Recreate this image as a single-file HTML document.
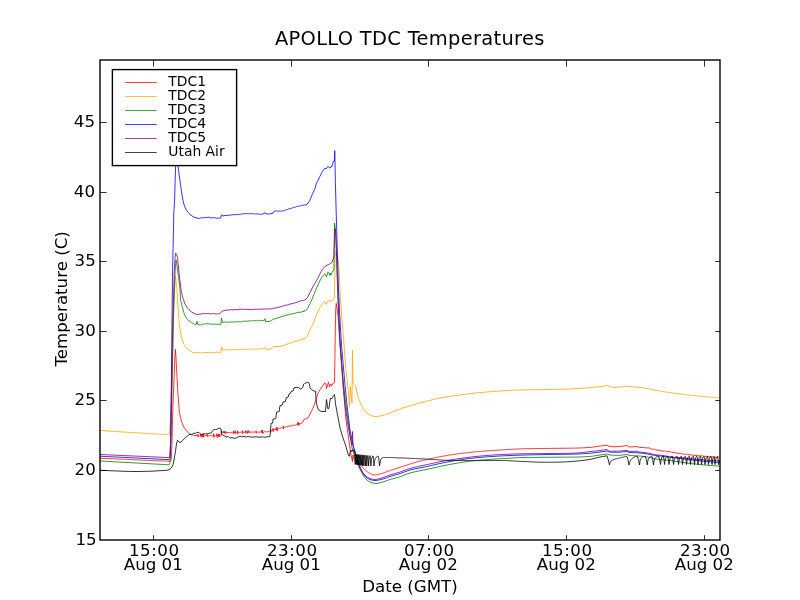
<!DOCTYPE html>
<html>
<head>
<meta charset="utf-8">
<title>APOLLO TDC Temperatures</title>
<style>
html,body{margin:0;padding:0;background:#fff;}
svg{display:block;}
text{font-family:"DejaVu Sans","Bitstream Vera Sans","Liberation Sans",sans-serif;fill:#000;}
</style>
</head>
<body>
<svg width="800" height="600" viewBox="0 0 800 600">
<rect width="800" height="600" fill="#fff"/>
<defs><clipPath id="ax"><rect x="100" y="60" width="620" height="480"/></clipPath></defs>
<g clip-path="url(#ax)" fill="none" stroke-width="0.80" stroke-linejoin="round" stroke-linecap="butt">
<path d="M100.00 458.20 L101.01 458.25 L102.01 458.29 L103.02 458.34 L104.03 458.38 L105.04 458.43 L106.04 458.47 L107.05 458.52 L108.06 458.56 L109.06 458.61 L110.07 458.65 L111.08 458.70 L112.09 458.74 L113.09 458.79 L114.10 458.83 L115.11 458.88 L116.11 458.93 L117.12 458.97 L118.13 459.02 L119.14 459.06 L120.14 459.11 L121.15 459.15 L122.16 459.20 L123.16 459.24 L124.17 459.29 L125.18 459.33 L126.19 459.38 L127.19 459.42 L128.20 459.47 L129.21 459.51 L130.21 459.56 L131.22 459.60 L132.23 459.65 L133.24 459.70 L134.24 459.74 L135.25 459.79 L136.26 459.83 L137.26 459.88 L138.27 459.92 L139.28 459.97 L140.29 460.01 L141.29 460.06 L142.30 460.11 L143.31 460.15 L144.31 460.20 L145.32 460.25 L146.33 460.30 L147.34 460.35 L148.34 460.40 L149.35 460.45 L150.36 460.49 L151.36 460.54 L152.37 460.59 L153.38 460.63 L154.39 460.68 L155.39 460.72 L156.40 460.76 L157.41 460.80 L158.41 460.84 L159.42 460.88 L160.43 460.91 L161.44 460.95 L162.44 460.98 L163.45 461.01 L164.46 461.04 L165.46 461.07 L166.47 461.10 L167.48 461.13 L168.49 461.15 L169.49 461.18 L170.50 461.20 L171.30 459.00 L171.90 445.00 L172.90 407.00 L174.20 375.00 L174.80 358.00 L175.40 349.40 L176.00 358.00 L176.60 370.00 L178.00 395.00 L179.40 412.50 L179.40 412.50 L180.38 417.03 L181.35 420.82 L182.33 423.62 L183.31 425.82 L184.28 427.63 L185.26 429.12 L186.24 430.45 L187.21 431.60 L188.19 432.55 L189.16 433.30 L190.14 433.94 L191.12 434.48 L192.09 434.88 L193.07 435.15 L194.05 435.37 L195.02 435.54 L196.00 435.60 L196.00 435.42 L196.79 435.53 L197.59 435.72 L197.74 434.36 L198.04 436.80 L198.38 435.48 L199.17 436.00 L199.97 435.90 L200.76 435.77 L200.91 433.88 L201.21 437.35 L201.55 435.70 L202.35 435.81 L202.50 433.79 L202.80 437.20 L203.14 435.56 L203.29 433.71 L203.59 437.16 L203.94 435.85 L204.73 435.85 L205.52 435.63 L206.32 435.66 L207.11 435.95 L207.26 434.31 L207.56 436.52 L207.90 436.01 L208.70 435.76 L209.49 435.66 L210.28 435.54 L211.08 435.69 L211.87 435.75 L212.66 435.86 L213.46 435.73 L213.61 433.62 L213.91 437.55 L214.25 435.88 L215.05 435.75 L215.84 435.83 L216.63 435.45 L216.78 433.62 L217.08 437.57 L217.43 435.31 L218.22 435.54 L218.37 434.09 L218.67 436.93 L219.01 435.86 L219.16 433.82 L219.46 436.53 L219.81 435.75 L220.60 435.87 L221.30 435.00 L221.60 430.50 L222.20 432.80 L223.00 432.60 L223.80 432.47 L223.95 430.91 L224.25 433.45 L224.60 432.39 L225.41 432.63 L225.56 431.33 L225.86 433.72 L226.21 432.44 L227.01 432.78 L227.81 432.50 L228.61 432.60 L229.42 432.53 L230.22 432.75 L231.02 432.43 L231.82 432.30 L232.62 432.73 L233.43 432.46 L233.58 430.90 L233.88 433.64 L234.23 432.13 L235.03 432.48 L235.18 430.70 L235.48 433.65 L235.83 432.49 L236.64 432.49 L237.44 432.06 L237.59 430.61 L237.89 434.06 L238.24 432.19 L239.04 432.37 L239.84 432.22 L240.65 432.20 L241.45 432.14 L242.25 432.41 L242.40 430.59 L242.70 433.68 L243.05 432.11 L243.85 432.39 L244.66 432.00 L245.46 432.29 L245.61 430.72 L245.91 433.15 L246.26 432.36 L247.06 432.36 L247.21 430.67 L247.51 433.36 L247.86 432.36 L248.67 431.95 L248.82 430.49 L249.12 433.08 L249.47 432.29 L250.27 431.91 L251.07 432.27 L251.88 432.27 L252.68 431.85 L253.48 432.25 L254.28 431.97 L255.08 432.01 L255.89 432.31 L256.04 430.85 L256.34 433.22 L256.69 432.28 L257.49 432.01 L258.29 432.30 L259.09 432.18 L259.90 432.12 L260.70 431.89 L261.50 431.84 L261.65 430.34 L261.95 433.08 L262.30 432.18 L262.45 430.07 L262.75 433.62 L263.10 432.24 L263.91 432.21 L264.71 431.66 L265.51 431.73 L266.31 431.99 L267.11 431.80 L267.92 431.87 L268.72 431.47 L269.52 431.21 L270.32 430.69 L270.47 429.16 L270.77 432.26 L271.12 430.27 L271.93 430.51 L272.73 430.27 L272.88 428.37 L273.18 431.66 L273.53 429.64 L274.33 429.58 L275.14 429.48 L275.94 429.49 L276.09 428.08 L276.39 430.02 L276.74 428.89 L276.89 427.14 L277.19 430.95 L277.54 428.66 L278.34 428.60 L279.15 428.42 L279.95 428.36 L280.75 427.93 L281.55 427.70 L282.35 427.87 L283.16 427.30 L283.31 426.05 L283.61 428.75 L283.96 427.53 L284.76 427.35 L285.56 426.95 L286.36 426.80 L287.17 426.57 L287.97 426.42 L288.77 426.29 L289.57 425.83 L290.38 425.88 L291.18 426.01 L291.98 425.82 L292.78 425.27 L293.58 425.02 L294.39 425.18 L295.19 425.10 L295.99 424.91 L296.79 424.37 L297.59 424.16 L297.74 422.63 L298.04 425.40 L298.40 424.06 L298.55 422.40 L298.85 425.42 L299.20 423.86 L300.00 423.77 L301.00 423.60 L302.50 422.50 L304.00 419.50 L306.00 418.80 L308.00 418.00 L310.00 414.00 L313.00 408.00 L316.00 400.00 L318.00 393.00 L321.00 388.00 L324.50 383.00 L326.00 384.00 L326.50 388.50 L327.30 386.00 L328.50 382.00 L329.50 387.00 L330.20 384.50 L331.00 384.50 L331.60 386.00 L332.30 384.00 L334.00 383.00 L334.50 382.50 L334.90 360.00 L335.30 330.00 L335.80 308.00 L336.30 303.50 L336.90 308.00 L338.00 315.00 L339.00 330.00 L340.50 350.00 L343.00 385.00 L346.00 420.00 L349.00 441.00 L351.00 455.00 L352.50 461.50 L353.00 455.00 L353.60 459.00 L353.60 459.00 L354.60 459.90 L355.60 460.79 L356.60 461.66 L357.61 462.50 L358.61 463.31 L359.61 464.14 L360.61 465.11 L361.61 466.24 L362.61 467.44 L363.62 468.61 L364.62 469.65 L365.62 470.52 L366.62 471.33 L367.62 472.07 L368.62 472.74 L369.63 473.31 L370.63 473.81 L371.63 474.32 L372.63 474.74 L373.63 474.98 L374.63 474.98 L375.63 474.89 L376.64 474.73 L377.64 474.53 L378.64 474.31 L379.64 474.08 L380.64 473.85 L381.64 473.57 L382.65 473.25 L383.65 472.90 L384.65 472.53 L385.65 472.14 L386.65 471.75 L387.65 471.35 L388.66 470.98 L389.66 470.62 L390.66 470.28 L391.66 469.95 L392.66 469.63 L393.66 469.31 L394.66 468.99 L395.67 468.68 L396.67 468.36 L397.67 468.05 L398.67 467.73 L399.67 467.41 L400.67 467.08 L401.68 466.75 L402.68 466.41 L403.68 466.07 L404.68 465.72 L405.68 465.38 L406.68 465.05 L407.69 464.72 L408.69 464.40 L409.69 464.09 L410.69 463.80 L411.69 463.50 L412.69 463.21 L413.69 462.93 L414.70 462.64 L415.70 462.37 L416.70 462.09 L417.70 461.82 L418.70 461.56 L419.70 461.30 L420.71 461.04 L421.71 460.79 L422.71 460.54 L423.71 460.30 L424.71 460.07 L425.71 459.84 L426.72 459.61 L427.72 459.38 L428.72 459.15 L429.72 458.92 L430.72 458.70 L431.72 458.48 L432.72 458.26 L433.73 458.05 L434.73 457.83 L435.73 457.62 L436.73 457.41 L437.73 457.21 L438.73 457.01 L439.74 456.81 L440.74 456.61 L441.74 456.42 L442.74 456.23 L443.74 456.05 L444.74 455.87 L445.75 455.69 L446.75 455.52 L447.75 455.36 L448.75 455.20 L449.75 455.04 L450.75 454.89 L451.75 454.73 L452.76 454.59 L453.76 454.44 L454.76 454.30 L455.76 454.16 L456.76 454.02 L457.76 453.88 L458.77 453.75 L459.77 453.61 L460.77 453.48 L461.77 453.36 L462.77 453.23 L463.77 453.11 L464.78 452.99 L465.78 452.87 L466.78 452.76 L467.78 452.64 L468.78 452.53 L469.78 452.42 L470.78 452.32 L471.79 452.22 L472.79 452.11 L473.79 452.02 L474.79 451.92 L475.79 451.83 L476.79 451.73 L477.80 451.64 L478.80 451.55 L479.80 451.47 L480.80 451.38 L481.80 451.30 L482.80 451.21 L483.81 451.13 L484.81 451.05 L485.81 450.97 L486.81 450.90 L487.81 450.82 L488.81 450.75 L489.82 450.67 L490.82 450.60 L491.82 450.53 L492.82 450.46 L493.82 450.39 L494.82 450.33 L495.82 450.26 L496.83 450.20 L497.83 450.13 L498.83 450.07 L499.83 450.01 L500.83 449.95 L501.83 449.89 L502.84 449.83 L503.84 449.77 L504.84 449.70 L505.84 449.64 L506.84 449.58 L507.84 449.52 L508.85 449.46 L509.85 449.40 L510.85 449.35 L511.85 449.29 L512.85 449.24 L513.85 449.18 L514.85 449.13 L515.86 449.08 L516.86 449.03 L517.86 448.99 L518.86 448.95 L519.86 448.91 L520.86 448.87 L521.87 448.84 L522.87 448.80 L523.87 448.78 L524.87 448.75 L525.87 448.73 L526.87 448.71 L527.88 448.69 L528.88 448.67 L529.88 448.66 L530.88 448.64 L531.88 448.62 L532.88 448.61 L533.88 448.59 L534.89 448.58 L535.89 448.57 L536.89 448.55 L537.89 448.54 L538.89 448.53 L539.89 448.52 L540.90 448.51 L541.90 448.50 L542.90 448.48 L543.90 448.47 L544.90 448.46 L545.90 448.45 L546.91 448.44 L547.91 448.43 L548.91 448.41 L549.91 448.40 L550.91 448.39 L551.91 448.38 L552.91 448.37 L553.92 448.35 L554.92 448.34 L555.92 448.33 L556.92 448.32 L557.92 448.32 L558.92 448.31 L559.93 448.30 L560.93 448.29 L561.93 448.28 L562.93 448.27 L563.93 448.26 L564.93 448.25 L565.94 448.24 L566.94 448.23 L567.94 448.21 L568.94 448.20 L569.94 448.19 L570.94 448.17 L571.94 448.16 L572.95 448.14 L573.95 448.12 L574.95 448.10 L575.95 448.08 L576.95 448.05 L577.95 448.02 L578.96 447.99 L579.96 447.96 L580.96 447.92 L581.96 447.87 L582.96 447.83 L583.96 447.78 L584.97 447.72 L585.97 447.66 L586.97 447.60 L587.97 447.54 L588.97 447.47 L589.97 447.40 L590.97 447.32 L591.98 447.21 L592.98 447.07 L593.98 446.93 L594.98 446.77 L595.98 446.61 L596.98 446.45 L597.99 446.29 L598.99 446.14 L599.99 446.00 L600.99 445.87 L601.99 445.75 L602.99 445.63 L604.00 445.51 L605.00 445.40 L606.00 445.30 L607.00 445.20 L607.00 445.20 L609.00 446.30 L612.00 446.60 L615.00 446.80 L620.00 446.50 L624.00 446.00 L627.00 445.50 L628.00 446.20 L629.00 447.00 L633.00 446.80 L637.00 446.50 L638.50 447.00 L640.00 447.50 L643.00 447.50 L645.00 447.80 L645.00 447.80 L648.83 447.95 L649.26 447.67 L650.32 449.07 L654.15 449.19 L654.58 448.97 L655.64 450.08 L659.47 450.18 L659.90 449.99 L660.96 450.95 L664.80 451.04 L665.22 450.87 L666.29 451.68 L670.12 451.77 L670.54 451.60 L671.61 452.45 L675.44 452.56 L675.86 452.36 L676.93 453.34 L680.76 453.43 L681.19 453.26 L682.25 454.10 L686.08 454.17 L686.51 454.03 L687.57 454.73 L691.40 454.80 L691.83 454.67 L692.89 455.31 L696.72 455.37 L697.15 455.26 L698.21 455.84 L702.05 455.89 L702.47 455.79 L703.54 456.30 L707.37 456.35 L707.79 456.26 L708.86 456.71 L712.69 456.76 L713.11 456.67 L714.18 457.11 L718.01 457.16 L718.44 457.08 L719.50 457.50" stroke="#ff0000"/>
<path d="M100.00 430.40 L101.00 430.47 L101.99 430.55 L102.99 430.62 L103.99 430.70 L104.99 430.77 L105.98 430.84 L106.98 430.91 L107.98 430.98 L108.97 431.05 L109.97 431.12 L110.97 431.19 L111.97 431.26 L112.96 431.33 L113.96 431.40 L114.96 431.47 L115.95 431.53 L116.95 431.60 L117.95 431.67 L118.94 431.73 L119.94 431.80 L120.94 431.86 L121.94 431.92 L122.93 431.99 L123.93 432.05 L124.93 432.11 L125.92 432.17 L126.92 432.23 L127.92 432.29 L128.92 432.35 L129.91 432.41 L130.91 432.47 L131.91 432.52 L132.90 432.58 L133.90 432.64 L134.90 432.70 L135.90 432.76 L136.89 432.82 L137.89 432.87 L138.89 432.93 L139.88 432.99 L140.88 433.05 L141.88 433.12 L142.88 433.18 L143.87 433.24 L144.87 433.31 L145.87 433.37 L146.86 433.44 L147.86 433.51 L148.86 433.57 L149.86 433.64 L150.85 433.70 L151.85 433.76 L152.85 433.82 L153.84 433.88 L154.84 433.94 L155.84 434.00 L156.83 434.05 L157.83 434.10 L158.83 434.15 L159.83 434.19 L160.82 434.23 L161.82 434.27 L162.82 434.31 L163.81 434.35 L164.81 434.38 L165.81 434.41 L166.81 434.44 L167.80 434.47 L168.80 434.50 L169.50 433.50 L170.50 418.00 L171.80 380.00 L173.80 310.00 L175.40 275.60 L176.90 288.75 L178.00 307.50 L179.00 320.00 L179.40 325.00 L179.40 325.00 L180.38 331.75 L181.36 336.69 L182.34 340.10 L183.32 342.81 L184.30 344.84 L185.29 346.37 L186.27 347.66 L187.25 348.73 L188.23 349.61 L189.21 350.32 L190.19 350.99 L191.17 351.60 L192.15 352.09 L193.13 352.41 L194.11 352.53 L195.10 352.59 L196.08 352.65 L197.06 352.69 L198.04 352.72 L199.02 352.74 L200.00 352.75 L200.00 352.87 L200.99 352.93 L201.98 352.96 L202.97 352.65 L203.96 352.75 L204.95 352.18 L205.94 352.66 L206.93 352.45 L207.92 352.57 L208.91 352.13 L209.90 352.57 L210.90 352.71 L211.89 352.10 L212.88 352.30 L213.87 352.48 L214.86 352.68 L215.85 352.28 L216.84 352.25 L217.83 352.31 L218.82 352.58 L219.81 352.68 L220.80 352.33 L221.50 346.90 L222.50 350.00 L223.00 349.92 L223.99 349.91 L224.97 349.85 L225.96 349.86 L226.95 349.63 L227.94 349.85 L228.93 350.11 L229.91 349.75 L230.90 349.93 L231.89 349.56 L232.88 349.86 L233.86 349.88 L234.85 349.81 L235.84 349.70 L236.82 349.66 L237.81 349.74 L238.80 349.87 L239.79 349.40 L240.78 349.34 L241.76 349.69 L242.75 349.76 L243.74 349.48 L244.72 349.39 L245.71 349.51 L246.70 349.15 L247.69 349.16 L248.68 349.07 L249.66 349.26 L250.65 349.06 L251.64 348.98 L252.62 349.22 L253.61 349.34 L254.60 348.91 L255.59 349.12 L256.57 348.90 L257.56 349.13 L258.55 348.94 L259.54 348.71 L260.52 348.65 L261.51 348.50 L262.50 348.74 L263.40 348.70 L264.40 347.25 L265.60 349.40 L268.00 349.20 L270.00 349.00 L271.50 348.30 L273.00 346.90 L274.00 346.73 L275.00 346.58 L276.00 346.63 L277.00 346.51 L278.00 346.67 L279.00 346.17 L280.00 346.54 L281.00 346.07 L282.00 345.90 L283.00 345.54 L284.00 345.43 L285.00 345.07 L286.00 344.54 L287.00 344.12 L288.00 343.90 L289.00 343.63 L290.00 343.04 L291.00 342.93 L292.00 342.73 L293.00 342.10 L294.00 341.62 L295.00 341.29 L296.00 341.27 L297.00 340.95 L298.00 340.88 L299.00 340.61 L300.00 340.10 L301.00 339.95 L302.00 339.91 L303.00 339.81 L303.75 338.10 L305.00 338.75 L307.50 335.60 L310.00 330.00 L313.75 322.50 L316.25 315.00 L320.00 307.50 L322.50 303.75 L325.00 301.50 L326.25 304.40 L327.50 301.25 L328.75 300.25 L330.00 301.90 L331.00 301.50 L332.50 300.25 L334.40 298.00 L334.60 290.00 L334.90 262.00 L335.40 251.50 L336.60 253.00 L338.60 262.00 L340.50 300.00 L344.00 345.00 L346.00 370.00 L348.50 393.00 L349.50 406.50 L350.30 386.00 L351.20 395.00 L352.00 403.00 L352.50 350.50 L353.00 382.00 L354.00 384.50 L354.00 384.50 L355.00 385.62 L356.00 388.00 L357.00 392.68 L358.00 396.69 L359.00 399.59 L360.00 402.00 L361.00 404.20 L362.00 406.25 L363.00 408.11 L364.00 409.71 L365.00 411.00 L366.00 412.06 L367.00 413.00 L368.00 413.81 L369.00 414.48 L370.00 415.00 L371.00 415.44 L372.00 415.84 L373.00 416.18 L374.00 416.41 L375.00 416.50 L376.00 416.47 L377.00 416.39 L378.00 416.28 L379.00 416.14 L380.00 416.00 L381.00 415.83 L382.00 415.62 L383.00 415.36 L384.00 415.07 L385.00 414.75 L386.00 414.41 L387.00 414.06 L388.00 413.71 L389.00 413.35 L390.00 413.00 L391.00 412.64 L392.00 412.26 L393.00 411.85 L394.00 411.43 L395.00 411.01 L396.00 410.58 L397.00 410.16 L398.00 409.75 L399.00 409.36 L400.00 409.00 L401.00 408.66 L402.00 408.32 L403.00 407.98 L404.00 407.66 L405.00 407.34 L406.00 407.02 L407.00 406.71 L408.00 406.41 L409.00 406.11 L410.00 405.81 L411.00 405.52 L412.00 405.23 L413.00 404.94 L414.00 404.66 L415.00 404.38 L416.00 404.10 L417.00 403.82 L418.00 403.55 L419.00 403.27 L420.00 403.00 L421.00 402.73 L422.00 402.45 L423.00 402.18 L424.00 401.90 L425.00 401.63 L426.00 401.35 L427.00 401.08 L428.00 400.81 L429.00 400.55 L430.00 400.29 L431.00 400.03 L432.00 399.78 L433.00 399.53 L434.00 399.29 L435.00 399.05 L436.00 398.83 L437.00 398.61 L438.00 398.39 L439.00 398.19 L440.00 398.00 L441.00 397.82 L442.00 397.64 L443.00 397.46 L444.00 397.29 L445.00 397.13 L446.00 396.97 L447.00 396.81 L448.00 396.66 L449.00 396.51 L450.00 396.36 L451.00 396.22 L452.00 396.08 L453.00 395.94 L454.00 395.80 L455.00 395.67 L456.00 395.53 L457.00 395.40 L458.00 395.27 L459.00 395.13 L460.00 395.00 L461.00 394.87 L462.00 394.73 L463.00 394.60 L464.00 394.47 L465.00 394.34 L466.00 394.21 L467.00 394.08 L468.00 393.96 L469.00 393.83 L470.00 393.71 L471.00 393.58 L472.00 393.47 L473.00 393.35 L474.00 393.23 L475.00 393.12 L476.00 393.01 L477.00 392.90 L478.00 392.80 L479.00 392.70 L480.00 392.60 L481.00 392.50 L482.00 392.41 L483.00 392.32 L484.00 392.23 L485.00 392.14 L486.00 392.05 L487.00 391.96 L488.00 391.88 L489.00 391.80 L490.00 391.71 L491.00 391.63 L492.00 391.56 L493.00 391.48 L494.00 391.41 L495.00 391.33 L496.00 391.26 L497.00 391.19 L498.00 391.13 L499.00 391.06 L500.00 391.00 L501.00 390.94 L502.00 390.88 L503.00 390.82 L504.00 390.76 L505.00 390.70 L506.00 390.64 L507.00 390.58 L508.00 390.53 L509.00 390.47 L510.00 390.42 L511.00 390.37 L512.00 390.32 L513.00 390.27 L514.00 390.22 L515.00 390.18 L516.00 390.14 L517.00 390.10 L518.00 390.06 L519.00 390.03 L520.00 390.00 L521.00 389.97 L522.00 389.95 L523.00 389.92 L524.00 389.90 L525.00 389.87 L526.00 389.85 L527.00 389.83 L528.00 389.81 L529.00 389.79 L530.00 389.77 L531.00 389.75 L532.00 389.74 L533.00 389.72 L534.00 389.70 L535.00 389.68 L536.00 389.67 L537.00 389.65 L538.00 389.63 L539.00 389.62 L540.00 389.60 L541.00 389.58 L542.00 389.57 L543.00 389.55 L544.00 389.54 L545.00 389.53 L546.00 389.51 L547.00 389.50 L548.00 389.49 L549.00 389.48 L550.00 389.46 L551.00 389.45 L552.00 389.44 L553.00 389.42 L554.00 389.41 L555.00 389.39 L556.00 389.38 L557.00 389.36 L558.00 389.34 L559.00 389.32 L560.00 389.30 L561.00 389.28 L562.00 389.25 L563.00 389.22 L564.00 389.19 L565.00 389.15 L566.00 389.12 L567.00 389.08 L568.00 389.03 L569.00 388.99 L570.00 388.94 L571.00 388.90 L572.00 388.85 L573.00 388.80 L574.00 388.74 L575.00 388.69 L576.00 388.63 L577.00 388.58 L578.00 388.52 L579.00 388.46 L580.00 388.40 L581.00 388.34 L582.00 388.27 L583.00 388.20 L584.00 388.13 L585.00 388.05 L586.00 387.98 L587.00 387.89 L588.00 387.81 L589.00 387.72 L590.00 387.63 L591.00 387.53 L592.00 387.44 L593.00 387.34 L594.00 387.24 L595.00 387.14 L596.00 387.03 L597.00 386.93 L598.00 386.82 L599.00 386.71 L600.00 386.60 L601.00 386.48 L602.00 386.36 L603.00 386.22 L604.00 386.09 L605.00 385.94 L606.00 385.80 L607.50 385.20 L610.00 387.00 L615.00 387.40 L620.00 387.00 L624.00 386.50 L627.00 386.10 L631.00 386.70 L635.00 387.00 L640.00 387.40 L645.00 388.00 L645.00 388.00 L646.01 388.22 L647.01 388.44 L648.02 388.66 L649.03 388.87 L650.03 389.09 L651.04 389.29 L652.05 389.50 L653.05 389.70 L654.06 389.90 L655.07 390.10 L656.07 390.29 L657.08 390.48 L658.09 390.66 L659.09 390.84 L660.10 391.02 L661.11 391.19 L662.11 391.36 L663.12 391.53 L664.13 391.69 L665.14 391.86 L666.14 392.02 L667.15 392.18 L668.16 392.33 L669.16 392.49 L670.17 392.64 L671.18 392.79 L672.18 392.94 L673.19 393.08 L674.20 393.22 L675.20 393.36 L676.21 393.50 L677.22 393.64 L678.22 393.77 L679.23 393.90 L680.24 394.03 L681.24 394.16 L682.25 394.28 L683.26 394.40 L684.26 394.52 L685.27 394.64 L686.28 394.75 L687.28 394.87 L688.29 394.98 L689.30 395.09 L690.30 395.20 L691.31 395.31 L692.32 395.41 L693.32 395.52 L694.33 395.62 L695.34 395.73 L696.34 395.83 L697.35 395.93 L698.36 396.03 L699.36 396.14 L700.37 396.24 L701.38 396.34 L702.39 396.44 L703.39 396.54 L704.40 396.63 L705.41 396.73 L706.41 396.83 L707.42 396.92 L708.43 397.02 L709.43 397.11 L710.44 397.20 L711.45 397.30 L712.45 397.39 L713.46 397.48 L714.47 397.57 L715.47 397.66 L716.48 397.74 L717.49 397.83 L718.49 397.92 L719.50 398.00" stroke="#ffa500"/>
<path d="M100.00 461.00 L101.00 461.06 L102.00 461.11 L103.00 461.17 L104.00 461.22 L105.00 461.28 L106.00 461.33 L107.00 461.38 L108.00 461.44 L109.00 461.50 L110.00 461.55 L111.00 461.61 L112.00 461.66 L113.00 461.72 L114.00 461.77 L115.00 461.83 L116.00 461.88 L117.00 461.94 L118.00 461.99 L119.00 462.05 L120.00 462.10 L121.00 462.16 L122.00 462.21 L123.00 462.27 L124.00 462.32 L125.00 462.38 L126.00 462.43 L127.00 462.49 L128.00 462.54 L129.00 462.60 L130.00 462.65 L131.00 462.71 L132.00 462.76 L133.00 462.81 L134.00 462.87 L135.00 462.92 L136.00 462.98 L137.00 463.04 L138.00 463.09 L139.00 463.15 L140.00 463.20 L141.00 463.25 L142.00 463.31 L143.00 463.36 L144.00 463.42 L145.00 463.47 L146.00 463.53 L147.00 463.58 L148.00 463.64 L149.00 463.69 L150.00 463.75 L151.00 463.80 L152.00 463.86 L153.00 463.91 L154.00 463.97 L155.00 464.02 L156.00 464.08 L157.00 464.13 L158.00 464.19 L159.00 464.24 L160.00 464.30 L161.00 464.36 L162.00 464.41 L163.00 464.47 L164.00 464.52 L165.00 464.58 L166.00 464.63 L167.00 464.69 L168.00 464.74 L169.00 464.80 L169.90 463.50 L170.60 450.00 L171.80 400.00 L173.60 310.00 L175.00 272.00 L176.00 260.00 L176.80 264.00 L178.50 277.00 L180.00 288.75 L180.60 300.00 L180.60 300.00 L181.60 303.93 L182.60 307.91 L183.60 312.05 L184.60 314.61 L185.60 316.67 L186.60 318.29 L187.60 319.50 L188.60 320.44 L189.60 321.20 L190.60 321.85 L191.60 322.45 L192.60 323.06 L193.60 323.66 L194.60 324.23 L195.60 324.75 L196.40 324.60 L197.00 321.25 L197.60 324.00 L199.40 325.00 L199.40 325.18 L200.38 325.07 L201.35 324.87 L202.33 324.08 L203.31 324.45 L204.29 323.83 L205.26 323.85 L206.24 324.11 L207.22 323.55 L208.20 323.59 L209.17 324.30 L210.15 323.87 L211.13 323.98 L212.10 324.24 L213.08 324.36 L214.06 323.79 L215.04 324.13 L216.01 324.26 L216.99 324.33 L217.97 324.11 L218.95 324.47 L219.92 324.81 L220.90 324.20 L221.50 318.00 L222.50 322.50 L223.00 322.44 L223.99 322.03 L224.99 322.10 L225.98 322.35 L226.98 321.85 L227.97 322.41 L228.96 322.38 L229.96 321.68 L230.95 322.31 L231.95 321.82 L232.94 322.10 L233.93 322.05 L234.93 321.64 L235.92 321.91 L236.91 321.86 L237.91 321.94 L238.90 321.47 L239.90 321.81 L240.89 321.92 L241.88 321.62 L242.88 321.44 L243.87 321.03 L244.87 321.25 L245.86 321.06 L246.85 321.28 L247.85 321.17 L248.84 321.02 L249.84 320.65 L250.83 320.98 L251.82 320.92 L252.82 320.51 L253.81 321.03 L254.80 320.80 L255.80 320.34 L256.79 320.94 L257.79 320.27 L258.78 320.39 L259.77 320.67 L260.77 320.54 L261.76 320.48 L262.76 320.54 L263.75 320.37 L264.40 320.30 L265.00 318.75 L265.60 321.90 L268.00 321.50 L270.00 321.25 L271.50 320.40 L273.00 319.40 L274.00 319.03 L275.00 318.54 L276.00 318.08 L277.00 318.31 L278.00 317.99 L279.00 317.46 L280.00 317.31 L281.00 316.65 L282.00 316.25 L283.00 316.06 L284.00 316.21 L285.00 315.19 L286.00 315.34 L287.00 314.85 L288.00 315.07 L289.00 314.45 L290.00 314.19 L291.00 314.02 L292.00 313.91 L293.00 313.90 L294.00 313.31 L295.00 313.54 L296.00 312.67 L297.00 312.61 L298.00 312.26 L299.00 312.09 L300.00 312.50 L301.00 312.28 L302.00 311.62 L303.00 311.47 L304.00 311.52 L304.60 310.50 L305.00 311.25 L307.50 308.75 L310.00 303.75 L313.75 295.00 L315.60 290.00 L318.75 283.00 L321.90 276.90 L323.50 275.00 L325.00 273.75 L326.50 276.90 L327.30 274.00 L328.10 271.90 L329.00 273.00 L330.00 275.60 L330.60 273.00 L331.20 274.80 L331.90 272.50 L333.00 271.00 L333.90 270.00 L334.20 245.00 L334.50 223.00 L335.00 226.00 L335.60 232.00 L336.50 250.00 L338.00 300.00 L340.00 340.00 L343.00 380.00 L346.00 405.00 L348.00 420.00 L350.00 435.00 L352.00 448.00 L355.00 457.00 L358.00 465.00 L358.00 465.00 L359.00 467.08 L360.00 469.08 L361.00 471.00 L362.00 472.94 L363.00 474.88 L364.00 476.63 L365.00 478.00 L366.00 479.07 L367.00 480.02 L368.00 480.85 L369.00 481.51 L370.00 482.00 L371.00 482.38 L372.00 482.73 L373.00 483.04 L374.00 483.28 L375.00 483.44 L376.00 483.50 L377.00 483.43 L378.00 483.26 L379.00 483.03 L380.00 482.80 L381.00 482.56 L382.00 482.27 L383.00 481.96 L384.00 481.61 L385.00 481.25 L386.00 480.89 L387.00 480.52 L388.00 480.16 L389.00 479.82 L390.00 479.50 L391.00 479.20 L392.00 478.92 L393.00 478.65 L394.00 478.38 L395.00 478.12 L396.00 477.85 L397.00 477.58 L398.00 477.30 L399.00 477.01 L400.00 476.70 L401.00 476.36 L402.00 476.00 L403.00 475.61 L404.00 475.20 L405.00 474.80 L406.00 474.39 L407.00 474.00 L408.00 473.64 L409.00 473.30 L410.00 473.00 L411.00 472.73 L412.00 472.48 L413.00 472.24 L414.00 472.01 L415.00 471.80 L416.00 471.59 L417.00 471.38 L418.00 471.19 L419.00 470.99 L420.00 470.80 L421.00 470.61 L422.00 470.41 L423.00 470.21 L424.00 470.01 L425.00 469.80 L426.00 469.58 L427.00 469.36 L428.00 469.14 L429.00 468.92 L430.00 468.69 L431.00 468.47 L432.00 468.24 L433.00 468.01 L434.00 467.78 L435.00 467.56 L436.00 467.33 L437.00 467.10 L438.00 466.87 L439.00 466.65 L440.00 466.43 L441.00 466.21 L442.00 465.99 L443.00 465.78 L444.00 465.57 L445.00 465.36 L446.00 465.16 L447.00 464.96 L448.00 464.77 L449.00 464.58 L450.00 464.40 L451.00 464.22 L452.00 464.04 L453.00 463.87 L454.00 463.69 L455.00 463.51 L456.00 463.34 L457.00 463.17 L458.00 462.99 L459.00 462.83 L460.00 462.66 L461.00 462.49 L462.00 462.33 L463.00 462.17 L464.00 462.02 L465.00 461.87 L466.00 461.72 L467.00 461.58 L468.00 461.44 L469.00 461.30 L470.00 461.17 L471.00 461.05 L472.00 460.93 L473.00 460.81 L474.00 460.70 L475.00 460.60 L476.00 460.50 L477.00 460.41 L478.00 460.31 L479.00 460.22 L480.00 460.14 L481.00 460.05 L482.00 459.97 L483.00 459.89 L484.00 459.81 L485.00 459.73 L486.00 459.66 L487.00 459.59 L488.00 459.52 L489.00 459.45 L490.00 459.38 L491.00 459.31 L492.00 459.24 L493.00 459.18 L494.00 459.12 L495.00 459.05 L496.00 458.99 L497.00 458.93 L498.00 458.87 L499.00 458.81 L500.00 458.75 L501.00 458.69 L502.00 458.63 L503.00 458.57 L504.00 458.50 L505.00 458.44 L506.00 458.38 L507.00 458.32 L508.00 458.26 L509.00 458.20 L510.00 458.14 L511.00 458.08 L512.00 458.02 L513.00 457.96 L514.00 457.91 L515.00 457.86 L516.00 457.81 L517.00 457.76 L518.00 457.72 L519.00 457.67 L520.00 457.64 L521.00 457.60 L522.00 457.57 L523.00 457.54 L524.00 457.52 L525.00 457.50 L526.00 457.48 L527.00 457.47 L528.00 457.45 L529.00 457.44 L530.00 457.43 L531.00 457.41 L532.00 457.40 L533.00 457.39 L534.00 457.38 L535.00 457.37 L536.00 457.36 L537.00 457.35 L538.00 457.34 L539.00 457.33 L540.00 457.32 L541.00 457.32 L542.00 457.31 L543.00 457.30 L544.00 457.29 L545.00 457.29 L546.00 457.28 L547.00 457.27 L548.00 457.26 L549.00 457.26 L550.00 457.25 L551.00 457.24 L552.00 457.24 L553.00 457.23 L554.00 457.22 L555.00 457.22 L556.00 457.21 L557.00 457.21 L558.00 457.21 L559.00 457.20 L560.00 457.20 L561.00 457.19 L562.00 457.19 L563.00 457.18 L564.00 457.18 L565.00 457.18 L566.00 457.17 L567.00 457.17 L568.00 457.16 L569.00 457.15 L570.00 457.15 L571.00 457.14 L572.00 457.13 L573.00 457.12 L574.00 457.11 L575.00 457.10 L576.00 457.09 L577.00 457.07 L578.00 457.04 L579.00 457.01 L580.00 456.97 L581.00 456.93 L582.00 456.89 L583.00 456.84 L584.00 456.79 L585.00 456.73 L586.00 456.67 L587.00 456.61 L588.00 456.54 L589.00 456.47 L590.00 456.40 L591.00 456.31 L592.00 456.21 L593.00 456.08 L594.00 455.94 L595.00 455.79 L596.00 455.63 L597.00 455.46 L598.00 455.30 L599.00 455.15 L600.00 455.00 L601.00 454.86 L602.00 454.72 L603.00 454.57 L604.00 454.43 L605.00 454.29 L606.00 454.14 L607.00 454.00 L607.00 454.00 L610.00 455.00 L615.00 455.30 L620.00 455.30 L627.00 454.50 L630.00 455.50 L640.00 456.00 L645.00 456.60 L650.00 457.50 L655.00 459.00 L660.00 459.50 L665.00 460.00 L670.00 460.50 L680.00 462.00 L690.00 463.50 L700.00 464.50 L710.00 465.50 L719.50 466.20" stroke="#008000"/>
<path d="M100.00 456.20 L101.00 456.25 L102.00 456.30 L103.00 456.35 L104.00 456.40 L105.00 456.45 L106.00 456.50 L107.00 456.55 L108.00 456.60 L109.00 456.65 L110.00 456.70 L111.00 456.75 L112.00 456.80 L113.00 456.85 L114.00 456.90 L115.00 456.95 L116.00 457.00 L117.00 457.05 L118.00 457.10 L119.00 457.15 L120.00 457.20 L121.00 457.25 L122.00 457.30 L123.00 457.35 L124.00 457.40 L125.00 457.45 L126.00 457.50 L127.00 457.55 L128.00 457.60 L129.00 457.65 L130.00 457.70 L131.00 457.75 L132.00 457.80 L133.00 457.85 L134.00 457.90 L135.00 457.95 L136.00 458.00 L137.00 458.05 L138.00 458.10 L139.00 458.15 L140.00 458.20 L141.00 458.25 L142.00 458.30 L143.00 458.35 L144.00 458.40 L145.00 458.45 L146.00 458.50 L147.00 458.55 L148.00 458.59 L149.00 458.64 L150.00 458.69 L151.00 458.74 L152.00 458.79 L153.00 458.84 L154.00 458.89 L155.00 458.94 L156.00 458.99 L157.00 459.04 L158.00 459.10 L159.00 459.15 L160.00 459.20 L161.00 459.25 L162.00 459.31 L163.00 459.36 L164.00 459.42 L165.00 459.47 L166.00 459.53 L167.00 459.59 L168.00 459.64 L169.00 459.70 L169.90 458.50 L170.60 445.00 L171.50 370.00 L172.50 275.00 L173.75 215.00 L174.60 200.00 L175.60 166.00 L176.20 150.00 L176.80 152.00 L178.00 166.00 L178.00 166.00 L179.00 173.85 L180.00 181.26 L181.00 188.29 L182.00 195.06 L183.00 200.45 L184.00 204.36 L185.00 207.37 L186.00 209.48 L187.00 210.95 L188.00 212.24 L189.00 213.43 L190.00 214.40 L191.00 215.20 L192.00 215.92 L193.00 216.56 L194.00 217.09 L195.00 217.50 L196.00 217.80 L197.00 218.00 L197.00 218.19 L197.99 218.31 L198.97 218.29 L199.96 218.17 L200.95 217.79 L201.94 217.93 L202.93 217.67 L203.91 217.83 L204.90 217.74 L205.89 217.34 L206.88 217.28 L207.86 217.65 L208.85 217.02 L209.84 217.66 L210.82 217.78 L211.81 217.90 L212.80 217.53 L213.79 217.76 L214.77 217.89 L215.76 218.02 L216.75 218.37 L217.74 218.20 L218.72 217.93 L219.71 218.38 L220.70 217.99 L221.50 214.75 L222.50 215.90 L223.00 215.86 L224.01 215.84 L225.02 215.30 L226.03 215.67 L227.04 215.50 L228.05 215.31 L229.06 215.23 L230.07 215.10 L231.08 214.85 L232.09 214.96 L233.10 214.58 L234.11 214.77 L235.12 214.78 L236.13 214.57 L237.14 214.55 L238.15 214.69 L239.16 214.55 L240.17 214.00 L241.18 214.29 L242.19 214.10 L243.20 213.67 L244.21 213.77 L245.22 213.62 L246.23 213.46 L247.24 213.69 L248.25 213.88 L249.26 213.50 L250.27 213.82 L251.28 213.73 L252.29 213.42 L253.30 213.90 L254.31 213.80 L255.32 214.05 L256.33 213.98 L257.34 214.06 L258.35 213.88 L259.36 214.21 L260.37 214.32 L261.38 214.31 L262.39 214.06 L263.40 214.15 L264.40 212.50 L265.40 213.80 L268.75 214.00 L271.00 213.60 L273.00 213.10 L274.00 211.25 L274.50 211.29 L275.49 211.06 L276.48 211.01 L277.48 211.00 L278.47 211.04 L279.46 210.98 L280.45 211.13 L281.45 211.19 L282.44 211.03 L283.43 210.81 L284.42 210.65 L285.41 210.06 L286.41 209.76 L287.40 209.59 L288.39 209.07 L289.38 208.64 L290.38 208.78 L291.37 208.37 L292.36 207.86 L293.35 207.58 L294.34 207.39 L295.34 207.16 L296.33 206.67 L297.32 206.29 L298.31 206.18 L299.30 206.31 L300.30 205.73 L301.29 205.73 L302.28 205.40 L303.27 205.24 L304.27 205.07 L305.26 205.07 L306.25 204.80 L306.25 205.00 L309.40 201.25 L312.50 193.75 L315.00 188.75 L316.25 183.75 L320.00 176.25 L322.50 171.25 L325.00 168.10 L326.25 168.75 L328.10 166.25 L329.00 167.50 L330.00 168.10 L331.00 166.50 L331.90 166.90 L332.50 163.75 L333.50 161.25 L334.40 161.25 L334.75 150.60 L335.40 182.50 L336.25 215.00 L337.00 240.00 L338.50 290.00 L340.00 320.00 L341.50 345.00 L345.00 385.00 L347.00 405.00 L350.00 430.00 L351.00 435.00 L353.00 445.00 L355.00 452.00 L355.00 452.00 L356.00 455.20 L357.00 458.40 L358.00 461.68 L359.00 465.15 L360.00 468.00 L361.00 470.09 L362.00 471.94 L363.00 473.55 L364.00 474.90 L365.00 476.00 L366.00 476.94 L367.00 477.78 L368.00 478.51 L369.00 479.09 L370.00 479.50 L371.00 479.80 L372.00 480.08 L373.00 480.30 L374.00 480.45 L375.00 480.50 L376.00 480.46 L377.00 480.34 L378.00 480.18 L379.00 479.99 L380.00 479.80 L381.00 479.58 L382.00 479.31 L383.00 479.01 L384.00 478.66 L385.00 478.30 L386.00 477.93 L387.00 477.55 L388.00 477.18 L389.00 476.83 L390.00 476.50 L391.00 476.20 L392.00 475.91 L393.00 475.62 L394.00 475.34 L395.00 475.07 L396.00 474.79 L397.00 474.50 L398.00 474.21 L399.00 473.91 L400.00 473.60 L401.00 473.26 L402.00 472.90 L403.00 472.52 L404.00 472.13 L405.00 471.73 L406.00 471.34 L407.00 470.97 L408.00 470.61 L409.00 470.29 L410.00 470.00 L411.00 469.74 L412.00 469.50 L413.00 469.27 L414.00 469.05 L415.00 468.84 L416.00 468.63 L417.00 468.44 L418.00 468.25 L419.00 468.06 L420.00 467.88 L421.00 467.69 L422.00 467.50 L423.00 467.31 L424.00 467.11 L425.00 466.90 L426.00 466.69 L427.00 466.47 L428.00 466.25 L429.00 466.03 L430.00 465.80 L431.00 465.57 L432.00 465.35 L433.00 465.12 L434.00 464.89 L435.00 464.65 L436.00 464.42 L437.00 464.20 L438.00 463.97 L439.00 463.74 L440.00 463.52 L441.00 463.30 L442.00 463.08 L443.00 462.86 L444.00 462.65 L445.00 462.45 L446.00 462.24 L447.00 462.05 L448.00 461.86 L449.00 461.68 L450.00 461.50 L451.00 461.33 L452.00 461.16 L453.00 460.99 L454.00 460.82 L455.00 460.65 L456.00 460.49 L457.00 460.32 L458.00 460.16 L459.00 460.01 L460.00 459.85 L461.00 459.70 L462.00 459.55 L463.00 459.40 L464.00 459.25 L465.00 459.11 L466.00 458.97 L467.00 458.84 L468.00 458.71 L469.00 458.58 L470.00 458.45 L471.00 458.33 L472.00 458.22 L473.00 458.11 L474.00 458.00 L475.00 457.90 L476.00 457.80 L477.00 457.70 L478.00 457.61 L479.00 457.52 L480.00 457.43 L481.00 457.34 L482.00 457.25 L483.00 457.16 L484.00 457.08 L485.00 457.00 L486.00 456.92 L487.00 456.84 L488.00 456.77 L489.00 456.69 L490.00 456.62 L491.00 456.55 L492.00 456.48 L493.00 456.41 L494.00 456.35 L495.00 456.29 L496.00 456.22 L497.00 456.17 L498.00 456.11 L499.00 456.05 L500.00 456.00 L501.00 455.95 L502.00 455.90 L503.00 455.85 L504.00 455.80 L505.00 455.75 L506.00 455.70 L507.00 455.66 L508.00 455.61 L509.00 455.57 L510.00 455.52 L511.00 455.48 L512.00 455.44 L513.00 455.40 L514.00 455.36 L515.00 455.32 L516.00 455.29 L517.00 455.25 L518.00 455.21 L519.00 455.18 L520.00 455.15 L521.00 455.12 L522.00 455.09 L523.00 455.06 L524.00 455.03 L525.00 455.00 L526.00 454.97 L527.00 454.95 L528.00 454.92 L529.00 454.90 L530.00 454.88 L531.00 454.85 L532.00 454.83 L533.00 454.81 L534.00 454.79 L535.00 454.77 L536.00 454.75 L537.00 454.73 L538.00 454.71 L539.00 454.69 L540.00 454.68 L541.00 454.66 L542.00 454.64 L543.00 454.62 L544.00 454.61 L545.00 454.59 L546.00 454.57 L547.00 454.55 L548.00 454.54 L549.00 454.52 L550.00 454.50 L551.00 454.48 L552.00 454.47 L553.00 454.45 L554.00 454.44 L555.00 454.42 L556.00 454.41 L557.00 454.40 L558.00 454.38 L559.00 454.37 L560.00 454.36 L561.00 454.35 L562.00 454.33 L563.00 454.32 L564.00 454.31 L565.00 454.29 L566.00 454.28 L567.00 454.26 L568.00 454.25 L569.00 454.23 L570.00 454.21 L571.00 454.19 L572.00 454.17 L573.00 454.15 L574.00 454.13 L575.00 454.10 L576.00 454.07 L577.00 454.04 L578.00 453.99 L579.00 453.95 L580.00 453.90 L581.00 453.84 L582.00 453.78 L583.00 453.72 L584.00 453.66 L585.00 453.59 L586.00 453.51 L587.00 453.44 L588.00 453.36 L589.00 453.28 L590.00 453.20 L591.00 453.11 L592.00 453.01 L593.00 452.90 L594.00 452.79 L595.00 452.66 L596.00 452.53 L597.00 452.40 L598.00 452.27 L599.00 452.13 L600.00 452.00 L601.00 451.87 L602.00 451.73 L603.00 451.59 L604.00 451.45 L605.00 451.30 L606.00 451.15 L607.00 451.00 L607.00 451.00 L609.00 452.00 L615.00 452.30 L620.00 452.20 L627.00 451.50 L629.00 452.50 L635.00 452.70 L640.00 453.00 L645.00 453.60 L650.00 454.50 L655.00 455.40 L660.00 456.00 L665.00 456.60 L670.00 457.20 L680.00 458.50 L690.00 459.70 L700.00 460.80 L710.00 461.80 L719.50 462.50" stroke="#0000ff"/>
<path d="M100.00 454.50 L101.00 454.55 L102.00 454.59 L103.00 454.63 L104.00 454.68 L105.00 454.72 L106.00 454.77 L107.00 454.81 L108.00 454.86 L109.00 454.90 L110.00 454.95 L111.00 454.99 L112.00 455.04 L113.00 455.08 L114.00 455.13 L115.00 455.17 L116.00 455.22 L117.00 455.26 L118.00 455.31 L119.00 455.35 L120.00 455.40 L121.00 455.44 L122.00 455.49 L123.00 455.53 L124.00 455.58 L125.00 455.62 L126.00 455.67 L127.00 455.71 L128.00 455.76 L129.00 455.81 L130.00 455.85 L131.00 455.89 L132.00 455.94 L133.00 455.99 L134.00 456.03 L135.00 456.08 L136.00 456.12 L137.00 456.16 L138.00 456.21 L139.00 456.25 L140.00 456.30 L141.00 456.34 L142.00 456.39 L143.00 456.43 L144.00 456.48 L145.00 456.52 L146.00 456.56 L147.00 456.61 L148.00 456.65 L149.00 456.69 L150.00 456.74 L151.00 456.78 L152.00 456.82 L153.00 456.87 L154.00 456.91 L155.00 456.96 L156.00 457.01 L157.00 457.05 L158.00 457.10 L159.00 457.15 L160.00 457.20 L161.00 457.25 L162.00 457.30 L163.00 457.36 L164.00 457.41 L165.00 457.47 L166.00 457.53 L167.00 457.58 L168.00 457.64 L169.00 457.70 L169.90 456.50 L170.70 440.00 L171.70 380.00 L172.80 320.00 L174.20 275.00 L175.00 258.00 L175.70 253.10 L176.60 254.50 L177.50 257.50 L179.40 276.25 L181.25 291.25 L181.25 291.25 L182.24 295.45 L183.22 299.09 L184.21 302.02 L185.19 304.25 L186.18 306.08 L187.16 307.57 L188.15 308.77 L189.13 309.83 L190.12 310.77 L191.10 311.58 L192.09 312.26 L193.07 312.82 L194.06 313.34 L195.04 313.82 L196.03 314.22 L197.01 314.54 L198.00 314.75 L198.00 314.47 L198.99 314.29 L199.98 314.11 L200.96 314.11 L201.95 313.68 L202.94 313.52 L203.93 313.67 L204.92 313.57 L205.90 313.72 L206.89 313.34 L207.88 313.57 L208.87 313.59 L209.86 313.40 L210.85 314.00 L211.83 313.59 L212.82 313.55 L213.81 313.81 L214.80 313.66 L215.79 313.97 L216.77 313.84 L217.76 313.74 L218.75 313.73 L220.00 313.60 L221.90 311.25 L225.00 310.25 L225.00 310.39 L226.00 310.04 L227.00 310.28 L228.00 310.02 L229.00 310.23 L230.00 309.79 L231.00 309.70 L232.00 309.65 L233.00 309.93 L234.00 309.77 L235.00 309.55 L236.00 309.36 L237.00 309.68 L238.00 309.82 L239.00 309.57 L240.00 309.20 L241.00 309.20 L242.00 309.23 L243.00 309.27 L244.00 309.18 L245.00 309.18 L246.00 309.53 L247.00 309.67 L248.00 309.24 L249.00 309.70 L250.00 309.39 L251.00 309.57 L252.00 309.62 L253.00 309.61 L254.00 309.05 L255.00 309.19 L256.00 309.35 L257.00 309.52 L258.00 308.98 L259.00 309.08 L260.00 309.38 L261.00 308.91 L262.00 309.04 L263.00 308.97 L264.00 309.14 L265.00 309.26 L266.00 308.77 L267.00 309.06 L268.00 309.01 L269.00 309.02 L270.00 308.78 L271.00 308.92 L272.00 308.46 L273.00 308.35 L274.00 308.07 L275.00 308.21 L276.00 307.82 L277.00 307.47 L278.00 307.18 L279.00 307.26 L280.00 306.94 L281.00 306.75 L282.00 306.29 L283.00 306.09 L284.00 305.64 L285.00 305.73 L286.00 305.06 L287.00 305.06 L288.00 304.96 L289.00 304.63 L290.00 303.98 L291.00 303.77 L292.00 303.83 L293.00 303.40 L294.00 303.23 L295.00 302.92 L296.00 302.36 L297.00 302.33 L298.00 301.94 L299.00 301.42 L300.00 301.17 L301.00 300.73 L302.00 300.67 L303.00 300.76 L304.00 300.00 L305.00 300.04 L305.00 300.00 L307.50 297.50 L310.00 292.50 L311.25 290.00 L313.75 285.00 L315.00 283.00 L317.50 278.75 L321.25 271.25 L323.00 268.50 L325.00 266.25 L327.00 265.30 L328.75 264.40 L330.50 263.50 L331.90 262.50 L332.80 260.00 L333.75 258.00 L334.30 245.00 L334.75 228.50 L335.40 229.00 L336.00 240.00 L337.00 270.00 L338.50 310.00 L340.00 345.00 L342.50 375.00 L345.00 405.00 L348.00 425.00 L350.00 436.00 L352.00 445.00 L352.50 431.50 L353.00 445.00 L354.00 449.00 L357.00 458.00 L357.00 458.00 L358.00 461.42 L359.00 464.50 L360.00 467.00 L361.00 469.05 L362.00 470.89 L363.00 472.51 L364.00 473.89 L365.00 475.00 L366.00 475.94 L367.00 476.78 L368.00 477.51 L369.00 478.09 L370.00 478.50 L371.00 478.80 L372.00 479.08 L373.00 479.30 L374.00 479.45 L375.00 479.50 L376.00 479.44 L377.00 479.27 L378.00 479.03 L379.00 478.76 L380.00 478.50 L381.00 478.23 L382.00 477.92 L383.00 477.58 L384.00 477.22 L385.00 476.85 L386.00 476.46 L387.00 476.08 L388.00 475.70 L389.00 475.34 L390.00 475.00 L391.00 474.68 L392.00 474.38 L393.00 474.08 L394.00 473.79 L395.00 473.50 L396.00 473.21 L397.00 472.92 L398.00 472.62 L399.00 472.32 L400.00 472.00 L401.00 471.67 L402.00 471.31 L403.00 470.95 L404.00 470.58 L405.00 470.20 L406.00 469.83 L407.00 469.47 L408.00 469.12 L409.00 468.80 L410.00 468.50 L411.00 468.22 L412.00 467.95 L413.00 467.70 L414.00 467.45 L415.00 467.20 L416.00 466.97 L417.00 466.74 L418.00 466.51 L419.00 466.29 L420.00 466.07 L421.00 465.86 L422.00 465.64 L423.00 465.43 L424.00 465.22 L425.00 465.00 L426.00 464.78 L427.00 464.57 L428.00 464.35 L429.00 464.13 L430.00 463.92 L431.00 463.70 L432.00 463.49 L433.00 463.27 L434.00 463.06 L435.00 462.85 L436.00 462.64 L437.00 462.43 L438.00 462.23 L439.00 462.02 L440.00 461.82 L441.00 461.62 L442.00 461.43 L443.00 461.24 L444.00 461.05 L445.00 460.86 L446.00 460.68 L447.00 460.51 L448.00 460.33 L449.00 460.16 L450.00 460.00 L451.00 459.84 L452.00 459.68 L453.00 459.52 L454.00 459.36 L455.00 459.21 L456.00 459.06 L457.00 458.90 L458.00 458.75 L459.00 458.61 L460.00 458.46 L461.00 458.32 L462.00 458.18 L463.00 458.04 L464.00 457.90 L465.00 457.77 L466.00 457.64 L467.00 457.51 L468.00 457.39 L469.00 457.27 L470.00 457.15 L471.00 457.03 L472.00 456.92 L473.00 456.81 L474.00 456.70 L475.00 456.60 L476.00 456.50 L477.00 456.40 L478.00 456.30 L479.00 456.20 L480.00 456.11 L481.00 456.01 L482.00 455.92 L483.00 455.83 L484.00 455.74 L485.00 455.65 L486.00 455.56 L487.00 455.48 L488.00 455.39 L489.00 455.31 L490.00 455.23 L491.00 455.16 L492.00 455.08 L493.00 455.01 L494.00 454.95 L495.00 454.88 L496.00 454.82 L497.00 454.76 L498.00 454.70 L499.00 454.65 L500.00 454.60 L501.00 454.55 L502.00 454.51 L503.00 454.46 L504.00 454.42 L505.00 454.37 L506.00 454.33 L507.00 454.29 L508.00 454.24 L509.00 454.20 L510.00 454.17 L511.00 454.13 L512.00 454.09 L513.00 454.06 L514.00 454.02 L515.00 453.99 L516.00 453.96 L517.00 453.93 L518.00 453.90 L519.00 453.87 L520.00 453.85 L521.00 453.83 L522.00 453.80 L523.00 453.78 L524.00 453.77 L525.00 453.75 L526.00 453.74 L527.00 453.72 L528.00 453.71 L529.00 453.70 L530.00 453.68 L531.00 453.67 L532.00 453.66 L533.00 453.65 L534.00 453.64 L535.00 453.64 L536.00 453.63 L537.00 453.62 L538.00 453.61 L539.00 453.60 L540.00 453.60 L541.00 453.59 L542.00 453.58 L543.00 453.57 L544.00 453.56 L545.00 453.55 L546.00 453.54 L547.00 453.53 L548.00 453.52 L549.00 453.51 L550.00 453.50 L551.00 453.49 L552.00 453.48 L553.00 453.46 L554.00 453.45 L555.00 453.44 L556.00 453.43 L557.00 453.42 L558.00 453.41 L559.00 453.40 L560.00 453.39 L561.00 453.37 L562.00 453.36 L563.00 453.35 L564.00 453.33 L565.00 453.32 L566.00 453.30 L567.00 453.28 L568.00 453.27 L569.00 453.25 L570.00 453.23 L571.00 453.20 L572.00 453.18 L573.00 453.16 L574.00 453.13 L575.00 453.10 L576.00 453.06 L577.00 453.01 L578.00 452.94 L579.00 452.86 L580.00 452.76 L581.00 452.66 L582.00 452.55 L583.00 452.43 L584.00 452.31 L585.00 452.19 L586.00 452.07 L587.00 451.94 L588.00 451.82 L589.00 451.71 L590.00 451.60 L591.00 451.50 L592.00 451.39 L593.00 451.29 L594.00 451.18 L595.00 451.08 L596.00 450.97 L597.00 450.86 L598.00 450.74 L599.00 450.62 L600.00 450.50 L601.00 450.37 L602.00 450.24 L603.00 450.10 L604.00 449.95 L605.00 449.81 L606.00 449.65 L607.00 449.50 L607.00 449.50 L609.00 451.20 L615.00 451.20 L620.00 451.00 L627.00 450.30 L629.00 451.50 L637.00 451.20 L640.00 452.20 L645.00 452.50 L650.00 453.50 L655.00 454.80 L660.00 455.20 L665.00 455.80 L670.00 456.80 L680.00 457.80 L690.00 458.70 L700.00 459.60 L710.00 460.40 L719.50 461.00" stroke="#800080"/>
<path d="M100.00 470.20 L101.00 470.25 L102.00 470.31 L103.00 470.36 L104.00 470.41 L105.00 470.46 L106.00 470.51 L107.00 470.56 L108.00 470.61 L109.00 470.65 L110.00 470.70 L111.00 470.74 L112.00 470.78 L113.00 470.82 L114.00 470.86 L115.00 470.90 L116.00 470.94 L117.00 470.98 L118.00 471.02 L119.00 471.06 L120.00 471.10 L121.00 471.14 L122.00 471.18 L123.00 471.22 L124.00 471.26 L125.00 471.29 L126.00 471.33 L127.00 471.36 L128.00 471.39 L129.00 471.42 L130.00 471.44 L131.00 471.46 L132.00 471.48 L133.00 471.49 L134.00 471.50 L135.00 471.50 L136.00 471.50 L137.00 471.49 L138.00 471.48 L139.00 471.47 L140.00 471.45 L141.00 471.44 L142.00 471.42 L143.00 471.39 L144.00 471.37 L145.00 471.34 L146.00 471.32 L147.00 471.29 L148.00 471.26 L149.00 471.23 L150.00 471.20 L151.00 471.17 L152.00 471.13 L153.00 471.09 L154.00 471.04 L155.00 470.99 L156.00 470.93 L157.00 470.88 L158.00 470.82 L159.00 470.76 L160.00 470.70 L161.00 470.64 L162.00 470.59 L163.00 470.54 L164.00 470.48 L165.00 470.41 L166.00 470.32 L167.00 470.20 L168.00 469.96 L169.00 469.55 L170.00 469.00 L171.00 468.19 L172.00 466.88 L173.00 464.58 L174.00 460.00 L175.50 451.00 L176.50 444.00 L177.50 440.20 L178.50 441.20 L179.40 442.50 L181.00 442.00 L182.50 440.60 L184.50 438.50 L186.25 436.90 L188.00 435.40 L190.00 434.40 L191.50 434.60 L193.75 433.10 L195.00 433.60 L196.50 432.60 L198.75 432.25 L200.00 433.50 L201.25 435.00 L203.00 434.00 L205.00 433.75 L207.00 433.90 L209.00 433.20 L211.25 433.10 L212.50 431.00 L213.75 429.40 L215.50 429.60 L216.90 429.40 L218.00 428.60 L219.40 428.10 L221.00 428.75 L221.50 434.40 L223.00 435.20 L225.00 436.25 L227.00 437.00 L228.50 436.60 L230.00 438.10 L232.00 437.60 L234.00 438.30 L236.25 438.10 L238.00 437.00 L240.00 436.25 L242.00 436.90 L244.00 436.40 L246.00 437.10 L248.00 436.60 L250.00 436.90 L253.00 437.20 L256.00 436.70 L259.00 437.30 L262.00 436.80 L265.00 437.20 L268.00 436.70 L270.00 436.50 L270.50 430.00 L271.00 423.50 L272.50 423.20 L273.20 419.00 L275.80 418.60 L276.60 412.00 L279.20 411.60 L280.00 405.50 L282.20 405.20 L283.00 402.00 L285.40 401.60 L286.20 397.50 L288.20 397.00 L289.00 394.00 L290.30 393.60 L291.00 391.50 L293.00 391.00 L294.00 388.00 L296.00 387.30 L298.50 387.50 L300.50 389.00 L302.00 388.30 L303.00 387.00 L303.60 384.00 L304.50 383.30 L306.00 383.00 L307.50 382.20 L308.80 382.60 L309.50 384.00 L310.00 388.00 L311.50 389.50 L313.00 390.50 L314.50 391.20 L315.50 391.00 L315.80 396.00 L316.30 402.00 L317.50 408.00 L318.70 410.00 L320.00 411.00 L322.00 411.50 L325.50 411.50 L326.10 404.00 L326.50 399.50 L327.00 403.00 L328.00 409.00 L329.00 408.00 L329.80 402.00 L330.50 398.00 L331.50 399.00 L333.00 396.50 L334.50 394.50 L335.00 399.00 L335.50 404.00 L340.00 428.00 L343.00 438.00 L345.50 445.00 L348.50 455.50 L349.30 456.30 L350.00 453.00 L350.60 450.60 L351.20 451.60 L351.80 450.20 L352.40 451.20 L353.00 449.80 L353.60 451.00 L354.20 450.60 L354.70 453.00 L355.20 464.33 L355.37 459.43 L355.55 456.57 L355.72 454.97 L355.89 454.32 L356.03 458.13 L356.15 464.50 L356.32 459.56 L356.50 456.68 L356.67 455.07 L356.84 454.42 L356.98 458.25 L357.10 464.66 L357.28 459.69 L357.47 456.79 L357.65 455.17 L357.83 454.51 L357.98 458.37 L358.10 464.83 L358.28 459.82 L358.47 456.90 L358.65 455.28 L358.83 454.61 L358.98 458.49 L359.10 465.00 L359.30 459.96 L359.50 457.02 L359.70 455.38 L359.90 454.71 L360.07 458.62 L360.20 465.18 L360.40 460.11 L360.60 457.15 L360.80 455.50 L361.00 454.82 L361.17 458.76 L361.30 465.37 L361.52 460.26 L361.74 457.27 L361.96 455.61 L362.18 454.93 L362.35 458.90 L362.50 465.57 L362.73 460.42 L362.96 457.41 L363.18 455.74 L363.41 455.05 L363.60 459.05 L363.75 465.79 L364.02 460.59 L364.30 457.56 L364.57 455.87 L364.85 455.18 L365.07 459.21 L365.25 466.04 L365.52 460.79 L365.80 457.73 L366.07 456.02 L366.35 455.32 L366.57 459.40 L366.75 466.00 L367.07 460.85 L367.39 457.84 L367.71 456.16 L368.03 455.48 L368.29 459.47 L368.50 466.00 L368.93 460.68 L369.36 457.78 L369.79 456.24 L370.22 455.65 L370.56 459.58 L370.85 466.00 L371.42 460.20 L372.00 457.58 L372.57 456.32 L373.15 455.88 L373.62 459.73 L374.00 466.00 L374.54 461.27 L375.07 459.21 L375.61 458.10 L376.15 457.37 L376.69 456.85 L377.23 456.49 L377.76 456.27 L378.30 456.20 L378.96 459.92 L379.50 466.00 L379.50 466.00 L380.50 459.97 L381.50 458.40 L382.49 457.73 L383.49 457.58 L384.49 457.56 L385.49 457.53 L386.48 457.52 L387.48 457.51 L388.48 457.50 L389.48 457.50 L390.48 457.50 L391.47 457.52 L392.47 457.54 L393.47 457.58 L394.47 457.62 L395.46 457.67 L396.46 457.72 L397.46 457.78 L398.46 457.83 L399.46 457.88 L400.45 457.92 L401.45 457.96 L402.45 458.00 L403.45 458.04 L404.45 458.09 L405.44 458.13 L406.44 458.17 L407.44 458.21 L408.44 458.25 L409.43 458.29 L410.43 458.34 L411.43 458.38 L412.43 458.42 L413.43 458.47 L414.42 458.51 L415.42 458.55 L416.42 458.60 L417.42 458.64 L418.41 458.69 L419.41 458.73 L420.41 458.78 L421.41 458.83 L422.41 458.87 L423.40 458.92 L424.40 458.97 L425.40 459.02 L426.40 459.07 L427.39 459.13 L428.39 459.19 L429.39 459.25 L430.39 459.32 L431.39 459.38 L432.38 459.45 L433.38 459.52 L434.38 459.59 L435.38 459.66 L436.38 459.73 L437.37 459.80 L438.37 459.87 L439.37 459.93 L440.37 460.00 L441.36 460.06 L442.36 460.12 L443.36 460.17 L444.36 460.22 L445.36 460.26 L446.35 460.30 L447.35 460.34 L448.35 460.37 L449.35 460.39 L450.34 460.40 L451.34 460.42 L452.34 460.43 L453.34 460.44 L454.34 460.46 L455.33 460.47 L456.33 460.48 L457.33 460.49 L458.33 460.50 L459.32 460.51 L460.32 460.52 L461.32 460.53 L462.32 460.54 L463.32 460.55 L464.31 460.56 L465.31 460.57 L466.31 460.57 L467.31 460.58 L468.30 460.58 L469.30 460.59 L470.30 460.59 L471.30 460.59 L472.30 460.60 L473.29 460.60 L474.29 460.60 L475.29 460.60 L476.29 460.60 L477.29 460.60 L478.28 460.60 L479.28 460.59 L480.28 460.59 L481.28 460.58 L482.27 460.58 L483.27 460.57 L484.27 460.57 L485.27 460.56 L486.27 460.56 L487.26 460.55 L488.26 460.55 L489.26 460.54 L490.26 460.53 L491.25 460.53 L492.25 460.52 L493.25 460.52 L494.25 460.51 L495.25 460.51 L496.24 460.51 L497.24 460.50 L498.24 460.50 L499.24 460.50 L500.23 460.50 L501.23 460.51 L502.23 460.52 L503.23 460.54 L504.23 460.56 L505.22 460.59 L506.22 460.63 L507.22 460.67 L508.22 460.71 L509.21 460.76 L510.21 460.81 L511.21 460.86 L512.21 460.92 L513.21 460.97 L514.20 461.03 L515.20 461.09 L516.20 461.15 L517.20 461.21 L518.20 461.27 L519.19 461.32 L520.19 461.38 L521.19 461.43 L522.19 461.48 L523.18 461.53 L524.18 461.57 L525.18 461.61 L526.18 461.65 L527.18 461.69 L528.17 461.73 L529.17 461.77 L530.17 461.81 L531.17 461.86 L532.16 461.90 L533.16 461.94 L534.16 461.98 L535.16 462.02 L536.16 462.06 L537.15 462.10 L538.15 462.13 L539.15 462.16 L540.15 462.19 L541.14 462.21 L542.14 462.23 L543.14 462.24 L544.14 462.25 L545.14 462.25 L546.13 462.25 L547.13 462.25 L548.13 462.24 L549.13 462.24 L550.12 462.23 L551.12 462.22 L552.12 462.21 L553.12 462.20 L554.12 462.19 L555.11 462.18 L556.11 462.16 L557.11 462.15 L558.11 462.13 L559.11 462.11 L560.10 462.10 L561.10 462.08 L562.10 462.05 L563.10 462.01 L564.09 461.97 L565.09 461.92 L566.09 461.87 L567.09 461.81 L568.09 461.75 L569.08 461.69 L570.08 461.62 L571.08 461.55 L572.08 461.47 L573.07 461.40 L574.07 461.32 L575.07 461.24 L576.07 461.16 L577.07 461.08 L578.06 460.98 L579.06 460.88 L580.06 460.77 L581.06 460.66 L582.05 460.54 L583.05 460.42 L584.05 460.29 L585.05 460.15 L586.05 460.01 L587.04 459.86 L588.04 459.71 L589.04 459.56 L590.04 459.39 L591.04 459.21 L592.03 459.01 L593.03 458.78 L594.03 458.54 L595.03 458.29 L596.02 458.04 L597.02 457.79 L598.02 457.54 L599.02 457.31 L600.02 457.10 L601.01 456.90 L602.01 456.70 L603.01 456.51 L604.01 456.32 L605.00 456.14 L606.00 455.97 L607.00 455.80 L607.00 455.80 L608.00 459.00 L609.50 465.00 L610.01 462.87 L610.52 461.69 L611.03 460.98 L611.54 460.53 L612.04 460.22 L612.55 459.98 L613.06 459.78 L613.57 459.61 L614.08 459.45 L614.59 459.29 L615.10 459.15 L615.61 459.01 L616.11 458.87 L616.62 458.73 L617.13 458.60 L617.64 458.47 L618.15 458.34 L618.66 458.21 L619.17 458.08 L619.68 457.96 L620.19 457.83 L620.69 457.71 L621.20 457.58 L621.71 457.46 L622.22 457.34 L622.73 457.22 L623.24 457.11 L623.75 456.99 L624.26 456.87 L624.76 456.76 L625.27 456.64 L625.78 456.53 L626.29 456.41 L626.80 456.30 L628.01 459.61 L629.00 465.00 L629.52 462.66 L630.04 461.22 L630.56 460.26 L631.08 459.55 L631.59 458.98 L632.11 458.51 L632.63 458.09 L633.15 457.72 L633.67 457.40 L634.19 457.11 L634.71 456.87 L635.23 456.67 L635.74 456.51 L636.26 456.39 L636.78 456.32 L637.30 456.30 L638.51 459.61 L639.50 465.00 L640.02 461.05 L640.54 459.35 L641.05 458.47 L641.57 457.90 L642.09 457.47 L642.61 457.12 L643.12 456.83 L643.64 456.60 L644.16 456.43 L644.68 456.33 L645.19 456.30 L646.35 459.61 L647.30 465.00 L647.80 461.00 L648.31 459.20 L648.81 458.22 L649.31 457.58 L649.81 457.11 L650.32 456.76 L650.82 456.50 L651.32 456.35 L651.83 456.30 L652.75 459.61 L653.50 465.00 L654.01 461.03 L654.52 459.28 L655.03 458.36 L655.54 457.75 L656.05 457.30 L656.57 456.94 L657.08 456.66 L657.59 456.46 L658.10 456.34 L658.61 456.30 L659.65 459.61 L660.50 464.50 L661.08 460.02 L661.67 458.06 L662.25 457.03 L662.84 456.49 L663.42 456.30 L664.01 459.42 L664.50 464.50 L665.05 460.31 L665.60 458.42 L666.14 457.40 L666.69 456.77 L667.24 456.42 L667.78 456.30 L668.45 459.42 L669.00 464.50 L669.55 460.31 L670.10 458.42 L670.64 457.40 L671.19 456.77 L671.74 456.42 L672.28 456.30 L672.95 459.42 L673.50 464.50 L674.02 460.51 L674.54 458.69 L675.06 457.69 L675.59 457.05 L676.11 456.63 L676.63 456.38 L677.15 456.30 L677.89 459.42 L678.50 464.50 L679.08 460.02 L679.67 458.06 L680.25 457.03 L680.84 456.49 L681.42 456.30 L682.01 459.42 L682.50 464.50 L683.08 460.02 L683.67 458.06 L684.25 457.03 L684.84 456.49 L685.42 456.30 L686.01 459.42 L686.50 464.50 L687.08 460.02 L687.67 458.06 L688.25 457.03 L688.84 456.49 L689.42 456.30 L690.01 459.42 L690.50 464.50 L691.08 460.02 L691.67 458.06 L692.25 457.03 L692.84 456.49 L693.42 456.30 L694.01 459.42 L694.50 464.50 L695.01 460.26 L695.52 458.22 L696.03 457.10 L696.54 456.51 L697.05 456.30 L697.57 459.42 L698.00 464.50 L698.51 460.26 L699.02 458.22 L699.53 457.10 L700.04 456.51 L700.55 456.30 L701.07 459.42 L701.50 464.50 L702.01 460.42 L702.52 458.45 L703.03 457.37 L703.54 456.80 L704.05 456.60 L704.57 459.60 L705.00 464.50 L705.51 460.42 L706.02 458.45 L706.53 457.37 L707.04 456.80 L707.55 456.60 L708.07 459.60 L708.50 464.50 L709.01 460.42 L709.52 458.45 L710.03 457.37 L710.54 456.80 L711.05 456.60 L711.57 459.60 L712.00 464.50 L712.55 460.05 L713.10 457.97 L713.64 456.95 L714.19 456.60 L714.64 459.60 L715.00 464.50 L715.51 460.42 L716.02 458.45 L716.53 457.37 L717.04 456.80 L717.55 456.60 L718.07 459.60 L718.50 464.50 L719.50 460.00" stroke="#000000"/>
</g>
<g stroke="#000" stroke-width="0.8" fill="none">
<path d="M153.5 540V535.2M153.5 60V66.7"/>
<path d="M291.5 540V535.2M291.5 60V66.7"/>
<path d="M428.5 540V535.2M428.5 60V66.7"/>
<path d="M566.5 540V535.2M566.5 60V66.7"/>
<path d="M704.5 540V535.2M704.5 60V66.7"/>
<path d="M100 470.5H106.7M720 470.5H715.2"/>
<path d="M100 400.5H106.7M720 400.5H715.2"/>
<path d="M100 331.5H106.7M720 331.5H715.2"/>
<path d="M100 261.5H106.7M720 261.5H715.2"/>
<path d="M100 192.5H106.7M720 192.5H715.2"/>
<path d="M100 122.5H106.7M720 122.5H715.2"/>
</g>
<rect x="100" y="60" width="620" height="480" fill="none" stroke="#000" stroke-width="1.39"/>
<g font-size="16.67px">
<text x="154.0" y="555.8" text-anchor="middle" textLength="50">15:00</text>
<text x="153.3" y="570" text-anchor="middle">Aug 01</text>
<text x="292.0" y="555.8" text-anchor="middle" textLength="50">23:00</text>
<text x="291.3" y="570" text-anchor="middle">Aug 01</text>
<text x="429.0" y="555.8" text-anchor="middle" textLength="50">07:00</text>
<text x="428.3" y="570" text-anchor="middle">Aug 02</text>
<text x="567.0" y="555.8" text-anchor="middle" textLength="50">15:00</text>
<text x="566.3" y="570" text-anchor="middle">Aug 02</text>
<text x="705.0" y="555.8" text-anchor="middle" textLength="50">23:00</text>
<text x="704.3" y="570" text-anchor="middle">Aug 02</text>
<text x="96.7" y="544.5" text-anchor="end">15</text>
<text x="95.8" y="475.0" text-anchor="end">20</text>
<text x="95.8" y="405.0" text-anchor="end">25</text>
<text x="95.8" y="336.0" text-anchor="end">30</text>
<text x="95.8" y="266.0" text-anchor="end">35</text>
<text x="95.0" y="197.0" text-anchor="end">40</text>
<text x="95.0" y="127.0" text-anchor="end">45</text>
<text x="410" y="591.8" text-anchor="middle">Date (GMT)</text>
<text transform="translate(66.8 298.9) rotate(-90)" text-anchor="middle" textLength="135.4">Temperature (C)</text>
</g>
<text x="409.6" y="45" text-anchor="middle" font-size="19.44px" textLength="269.4">APOLLO TDC Temperatures</text>
<g font-size="13.89px" fill="none">
<rect x="112.4" y="69.6" width="124.2" height="96" fill="#fff" stroke="#000" stroke-width="1.39"/>
<path d="M125 82.5H156.7" stroke="#ff0000" stroke-width="0.74"/>
<text x="168.3" y="86.1" fill="#000">TDC1</text>
<path d="M125 96.5H156.7" stroke="#ffa500" stroke-width="0.74"/>
<text x="168.3" y="100.1" fill="#000">TDC2</text>
<path d="M125 110.5H156.7" stroke="#008000" stroke-width="0.74"/>
<text x="168.3" y="114.1" fill="#000">TDC3</text>
<path d="M125 124.5H156.7" stroke="#0000ff" stroke-width="0.74"/>
<text x="168.3" y="128.1" fill="#000">TDC4</text>
<path d="M125 138.5H156.7" stroke="#800080" stroke-width="0.74"/>
<text x="168.3" y="142.1" fill="#000">TDC5</text>
<path d="M125 152.5H156.7" stroke="#000000" stroke-width="0.74"/>
<text x="168.3" y="156.1" fill="#000">Utah Air</text>
</g>
</svg>
</body>
</html>
